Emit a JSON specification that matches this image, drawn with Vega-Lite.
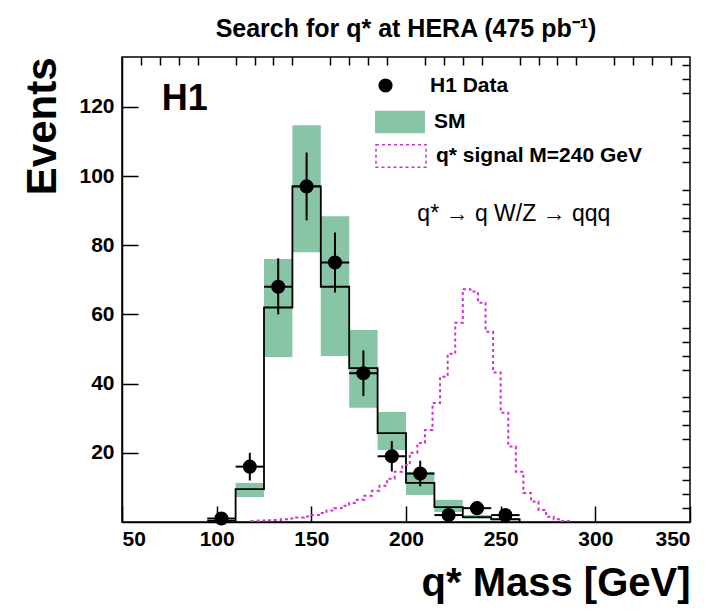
{
"$schema":"https://vega.github.io/schema/vega-lite/v6.json",
"width":568,"height":465,
"autosize":{"type":"none"},
"padding":{"left":122,"top":57,"right":37,"bottom":92},
"background":"white",
"title":{"text":"Search for q* at HERA (475 pb⁻¹)","fontSize":25,"font":"Liberation Sans","fontWeight":"bold","offset":14},
"resolve":{"axis":{"x":"independent","y":"independent"}},
"config":{"font":"Liberation Sans","view":{"stroke":"black","strokeWidth":1.5},
 "axis":{"grid":false,"domainColor":"black","tickColor":"black","labelFont":"Liberation Sans","labelFontSize":21,"labelFontWeight":"bold","labelColor":"black","titleColor":"black","titleFont":"Liberation Sans","titleFontWeight":"bold"}},
"datasets":{
"sm":[{"lo":95,"hi":110,"v":0.3,"b0":0.2,"b1":0.4},{"lo":110,"hi":125,"v":9.5,"b0":7.2,"b1":11.3},{"lo":125,"hi":140,"v":62,"b0":47.7,"b1":76},{"lo":140,"hi":155,"v":97,"b0":78,"b1":114.7},{"lo":155,"hi":170,"v":68,"b0":48,"b1":88.4},{"lo":170,"hi":185,"v":44.5,"b0":33,"b1":55.5},{"lo":185,"hi":200,"v":25.7,"b0":20.8,"b1":31.8},{"lo":200,"hi":215,"v":11.3,"b0":7.8,"b1":14.5},{"lo":215,"hi":230,"v":4.3,"b0":2.9,"b1":6.4},{"lo":230,"hi":245,"v":1.4,"b0":0.9,"b1":2.0},{"lo":245,"hi":260,"v":0.8,"b0":0.5,"b1":1.1},{"lo":260,"hi":260,"v":0,"b0":0,"b1":0}],
"sig":[{"lo":118,"v":0.3},{"lo":122,"v":0.4},{"lo":126,"v":0.5},{"lo":130,"v":0.6},{"lo":134,"v":0.8},{"lo":138,"v":1.0},{"lo":142,"v":1.3},{"lo":146,"v":1.6},{"lo":150,"v":2.0},{"lo":154,"v":2.6},{"lo":158,"v":3.3},{"lo":162,"v":4.0},{"lo":166,"v":4.7},{"lo":170,"v":5.5},{"lo":174,"v":6.4},{"lo":178,"v":7.6},{"lo":182,"v":9.0},{"lo":186,"v":10.5},{"lo":190,"v":12.5},{"lo":194,"v":14.5},{"lo":198,"v":16.5},{"lo":202,"v":20},{"lo":206,"v":22.8},{"lo":210,"v":26.6},{"lo":214,"v":34.4},{"lo":218,"v":42},{"lo":222,"v":48.6},{"lo":226,"v":57.6},{"lo":230,"v":67.3},{"lo":234,"v":66.6},{"lo":238,"v":63.4},{"lo":242,"v":55},{"lo":246,"v":43.2},{"lo":250,"v":31.6},{"lo":254,"v":21.8},{"lo":258,"v":14.5},{"lo":262,"v":8.4},{"lo":266,"v":5.9},{"lo":270,"v":3.5},{"lo":274,"v":1.5},{"lo":278,"v":0.8},{"lo":282,"v":0.3},{"lo":286,"v":0}],
"pts":[{"m":102.5,"n":1,"nlo":0,"nhi":2},{"m":117.5,"n":16,"nlo":12,"nhi":20},{"m":132.5,"n":68,"nlo":60,"nhi":76.2},{"m":147.5,"n":97,"nlo":87.2,"nhi":106.8},{"m":162.5,"n":75,"nlo":66.3,"nhi":83.7},{"m":177.5,"n":43,"nlo":36.4,"nhi":49.6},{"m":192.5,"n":19,"nlo":14.6,"nhi":23.4},{"m":207.5,"n":14,"nlo":10.3,"nhi":17.7},{"m":222.5,"n":2,"nlo":0.6,"nhi":3.4},{"m":237.5,"n":4,"nlo":2,"nhi":6},{"m":252.5,"n":2,"nlo":0.6,"nhi":3.4}]
},
"layer":[
{"data":{"name":"sm"},"mark":{"type":"rect","fill":"#88c4a6"},
 "encoding":{"x":{"field":"lo","type":"quantitative","scale":{"domain":[50,350],"nice":false},
   "axis":{"values":[50,100,150,200,250,300,350],"tickSize":-16,"tickWidth":1.5,"labelPadding":22,"domainWidth":1.5,"title":"q* Mass [GeV]","titleFontSize":40,"titleAnchor":"end","titlePadding":14}},
  "x2":{"field":"hi"},
  "y":{"field":"b0","type":"quantitative","scale":{"domain":[0,134.4],"nice":false},
   "axis":{"values":[20,40,60,80,100,120],"tickSize":-16,"tickWidth":1.5,"labelPadding":24,"domainWidth":1.5,"title":"Events","titleFontSize":42,"titleAnchor":"end","titlePadding":14}},
  "y2":{"field":"b1"},
  "fill":{"datum":"SM","type":"nominal","scale":{"range":["#88c4a6"]},
   "legend":{"orient":"none","legendX":253,"legendY":40,"title":null,"labelFontSize":21,"labelFontWeight":"bold","labelColor":"black","labelLimit":400,"symbolType":"M-1,-0.45H1V0.45H-1Z","symbolSize":2500,"symbolStrokeWidth":0,"labelOffset":9}}}},
{"data":{"name":"sm"},"mark":{"type":"line","interpolate":"step-after","color":"black","strokeWidth":1.8},
 "encoding":{"x":{"field":"lo","type":"quantitative","axis":{"values":[60,70,80,90,110,120,130,140,160,170,180,190,210,220,230,240,260,270,280,290,310,320,330,340],"tickSize":-8,"tickWidth":1.5,"labels":false,"domain":false,"title":null}},
  "y":{"field":"v","type":"quantitative","axis":{"values":[4,8,12,16,24,28,32,36,44,48,52,56,64,68,72,76,84,88,92,96,104,108,112,116,124,128,132],"tickSize":-8,"tickWidth":1.5,"labels":false,"domain":false,"title":null}}}},
{"data":{"name":"sig"},"mark":{"type":"line","interpolate":"step-after","color":"#cc33cc","strokeWidth":2,"strokeDash":[3,3]},
 "encoding":{"x":{"field":"lo","type":"quantitative","axis":null},"y":{"field":"v","type":"quantitative","axis":null},
  "strokeDash":{"datum":"q* signal M=240 GeV","type":"nominal","scale":{"range":[[3,3]]},
   "legend":{"orient":"none","legendX":253,"legendY":73,"title":null,"labelFontSize":21,"labelFontWeight":"bold","labelColor":"black","labelLimit":400,"symbolType":"M-1,-0.45H1V0.45H-1Z","symbolSize":2500,"symbolStrokeColor":"#cc33cc","symbolStrokeWidth":1.5,"symbolFillColor":"white","labelOffset":9}}}},
{"data":{"name":"pts"},"mark":{"type":"rule","color":"black","strokeWidth":2},
 "encoding":{"x":{"field":"m","type":"quantitative","axis":null},"y":{"field":"nlo","type":"quantitative","axis":null},"y2":{"field":"nhi"}}},
{"data":{"name":"pts"},"transform":[{"calculate":"datum.m-7.5","as":"a"},{"calculate":"datum.m+7.5","as":"b"}],"mark":{"type":"rule","color":"black","strokeWidth":2},
 "encoding":{"x":{"field":"a","type":"quantitative","axis":null},"x2":{"field":"b"},"y":{"field":"n","type":"quantitative","axis":null}}},
{"data":{"name":"pts"},"mark":{"type":"point","filled":true,"color":"black","size":200,"opacity":1},
 "encoding":{"x":{"field":"m","type":"quantitative","axis":null},"y":{"field":"n","type":"quantitative","axis":null},
  "shape":{"datum":"H1 Data","type":"nominal","scale":{"range":["circle"]},
   "legend":{"orient":"none","legendX":253,"legendY":18,"title":null,"labelFontSize":21,"labelFontWeight":"bold","labelColor":"black","labelLimit":400,"symbolFillColor":"black","symbolStrokeColor":"black","symbolSize":200,"labelOffset":34}}}},
{"data":{"values":[{"t":"H1"}]},"mark":{"type":"text","align":"left","baseline":"alphabetic","color":"black","font":"Liberation Sans","fontSize":36,"fontWeight":"bold"},
 "encoding":{"x":{"datum":71,"type":"quantitative","axis":null},"y":{"datum":119,"type":"quantitative","axis":null},"text":{"field":"t"}}},
{"data":{"values":[{"t":"q* → q W/Z → qqq"}]},"mark":{"type":"text","align":"left","baseline":"alphabetic","color":"black","font":"Liberation Sans","fontSize":23},
 "encoding":{"x":{"datum":206,"type":"quantitative","axis":null},"y":{"datum":87,"type":"quantitative","axis":null},"text":{"field":"t"}}}
]
}
